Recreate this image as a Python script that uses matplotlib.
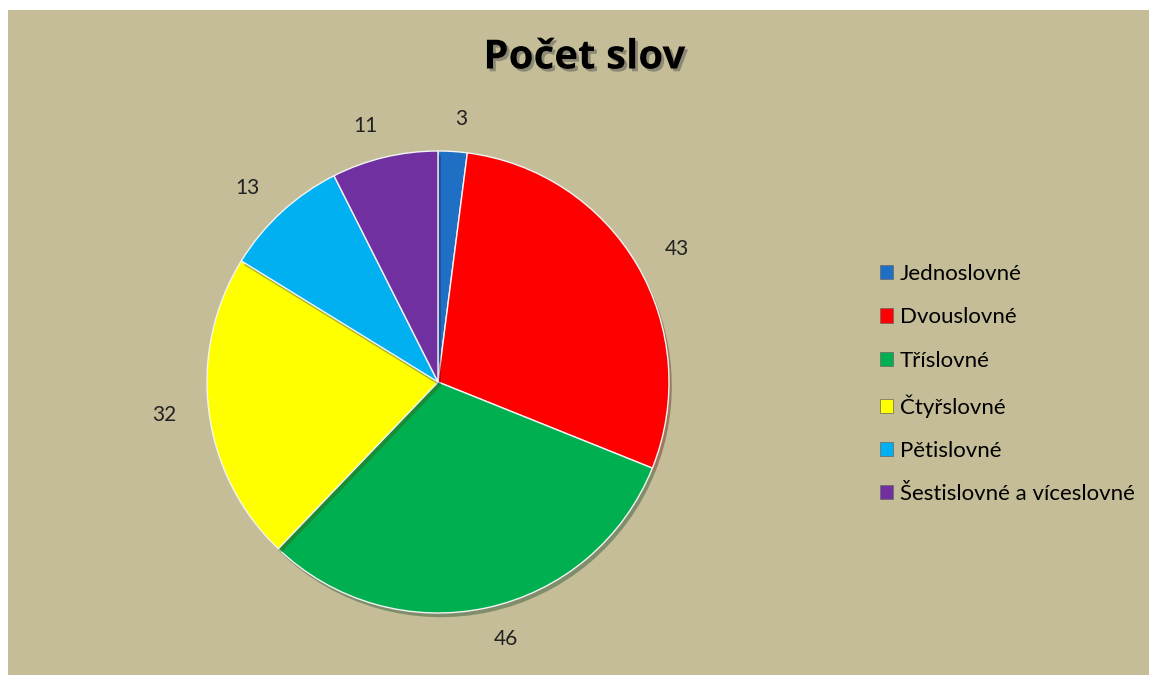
import matplotlib.pyplot as plt
import matplotlib.patheffects as pe
from matplotlib.patches import Rectangle

categories = ["Jednoslovné", "Dvouslovné", "Tříslovné", "Čtyřslovné",
              "Pětislovné", "Šestislovné a víceslovné"]
values = [3, 43, 46, 32, 13, 11]
colors = ["#1F6FC5", "#FF0000", "#00B050", "#FFFF00", "#00B0F0", "#7030A0"]

plt.rcParams["font.family"] = ["Lato", "DejaVu Sans"]

fig = plt.figure(figsize=(11.49, 6.75), dpi=100, facecolor="white")
W, H = 1149, 675
bg = "#C4BD97"
fig.patches.append(Rectangle((8 / W, 0), 1 - 8 / W, 1 - 10 / H,
                             transform=fig.transFigure, facecolor=bg,
                             edgecolor="none", zorder=-5))

# pie axes: centre ~ (438, 382), radius ~ 231 px
r = 231
ax = fig.add_axes([(438 - r) / W, 1 - (382 + r) / H, 2 * r / W, 2 * r / H])
ax.set_facecolor("none")
ax.set_zorder(2)
wedges, texts = ax.pie(values, colors=colors, startangle=90, counterclock=False,
                       labels=[str(v) for v in values], labeldistance=1.14,
                       wedgeprops=dict(edgecolor="#f4f4f4", linewidth=1.0),
                       textprops=dict(fontsize=15, color="#222222"))
for w in wedges:
    w.set_clip_on(False)
    w.set_path_effects([pe.SimplePatchShadow(offset=(2, -3), alpha=0.35), pe.Normal()])
ax.set_xlim(-1, 1)
ax.set_ylim(-1, 1)
ax.set_aspect("equal")

fig.text(584 / W, 1 - 58 / H, "Počet slov", ha="center", va="center",
         fontsize=29, fontweight="bold", color="black", family="Open Sans",
         path_effects=[pe.withSimplePatchShadow(offset=(2, -2), shadow_rgbFace="#555555", alpha=0.5)])

# legend
handles = [Rectangle((0, 0), 1, 1, facecolor=c, edgecolor="#666666", linewidth=0.5)
           for c in colors]
leg = fig.legend(handles, categories, loc="upper left",
                 bbox_to_anchor=(860 / W, 1 - 244 / H), frameon=False,
                 fontsize=16, handlelength=0.6, handleheight=0.6,
                 handletextpad=0.3, labelspacing=1.05)

fig.savefig("out.png", dpi=100, facecolor="white")
